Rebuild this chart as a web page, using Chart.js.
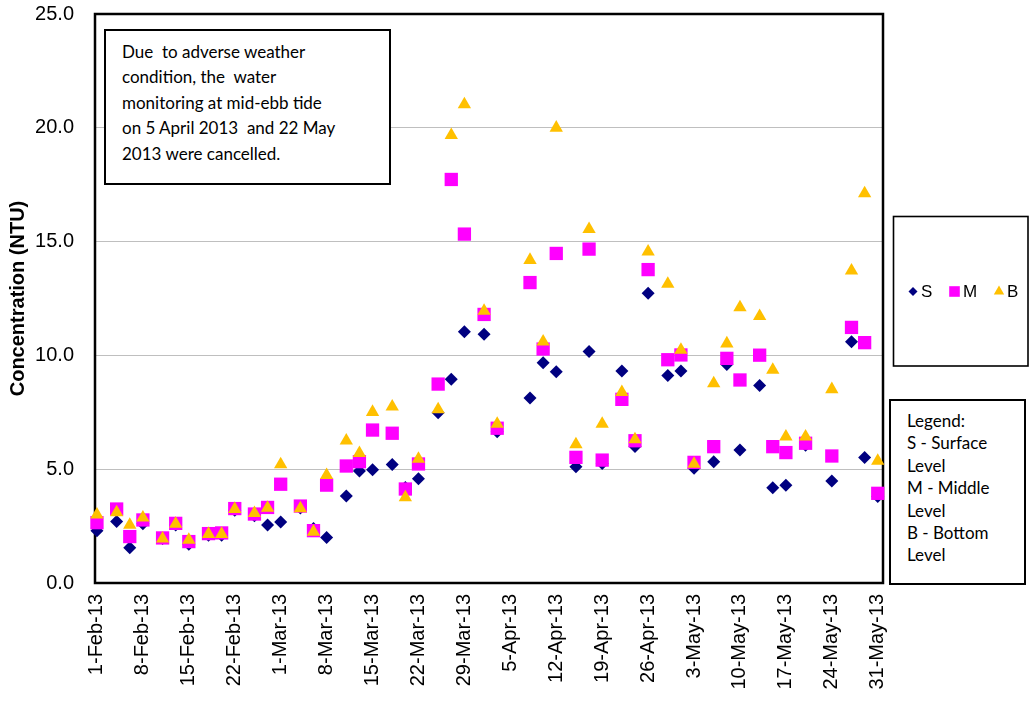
<!DOCTYPE html>
<html><head><meta charset="utf-8">
<script src="https://cdn.jsdelivr.net/npm/chart.js@4.4.1/dist/chart.umd.min.js"></script>
<style>
html,body{margin:0;padding:0;background:#fff;}
#wrap{position:relative;width:1029px;height:708px;overflow:hidden;}
#c{position:absolute;left:0;top:0;}
.box{position:absolute;box-sizing:border-box;border:2px solid #000;background:#fff;font-family:Lato,"Open Sans",sans-serif;color:#000;white-space:pre;}
</style></head><body>
<div id="wrap"><canvas id="c" width="1029" height="708"></canvas>
<div class="box" id="note" style="left:104px;top:29px;width:287px;height:156px;padding:8px 0 0 16px;font-size:17px;line-height:25.4px;">Due  to adverse weather
condition, the  water
monitoring at mid-ebb tide
on 5 April 2013  and 22 May
2013 were cancelled.</div>
<div class="box" id="key" style="left:889px;top:399px;width:137px;height:186px;padding:9px 0 0 16px;font-size:17px;line-height:22.4px;">Legend:
S - Surface
Level
M - Middle
Level
B - Bottom
Level</div>
</div>
<script>
// ---- data ----
const sampleDates = [
 '1-Feb-13','4-Feb-13','6-Feb-13','8-Feb-13','11-Feb-13','13-Feb-13','15-Feb-13','18-Feb-13','20-Feb-13','22-Feb-13','25-Feb-13','27-Feb-13',
 '1-Mar-13','4-Mar-13','6-Mar-13','8-Mar-13','11-Mar-13','13-Mar-13','15-Mar-13','18-Mar-13','20-Mar-13','22-Mar-13','25-Mar-13','27-Mar-13','29-Mar-13',
 '1-Apr-13','3-Apr-13','8-Apr-13','10-Apr-13','12-Apr-13','15-Apr-13','17-Apr-13','19-Apr-13','22-Apr-13','24-Apr-13','26-Apr-13','29-Apr-13',
 '1-May-13','3-May-13','6-May-13','8-May-13','10-May-13','13-May-13','15-May-13','17-May-13','20-May-13','24-May-13','27-May-13','29-May-13','31-May-13'
];
const surface = [
 2.30,2.70,1.55,2.60,1.95,2.55,1.70,2.10,2.10,3.20,2.95,2.55,
 2.68,3.30,2.40,2.00,3.82,4.92,4.98,5.21,4.20,4.58,7.48,8.95,11.04,
 10.93,6.65,8.13,9.68,9.28,5.11,10.17,5.25,9.31,6.00,12.73,9.12,
 9.31,5.04,5.33,9.60,5.84,8.68,4.19,4.29,6.05,4.48,10.60,5.51,3.80
];
const middle = [
 2.65,3.25,2.04,2.77,1.98,2.62,1.82,2.17,2.20,3.27,3.03,3.32,
 4.34,3.38,2.30,4.30,5.14,5.33,6.72,6.58,4.13,5.23,8.74,17.73,15.33,
 11.80,6.80,13.20,10.28,14.48,5.52,14.67,5.40,8.07,6.25,13.77,9.81,
 10.02,5.30,5.99,9.87,8.92,10.01,5.99,5.73,6.14,5.58,11.23,10.56,3.94
];
const bottom = [
 3.00,3.10,2.55,2.87,1.95,2.60,1.89,2.15,2.15,3.25,3.07,3.30,
 5.21,3.28,2.25,4.74,6.25,5.70,7.51,7.75,3.76,5.45,7.63,19.68,21.03,
 11.95,6.99,14.19,10.60,20.00,6.09,15.55,6.99,8.38,6.31,14.56,13.14,
 10.24,5.23,8.77,10.52,12.11,11.72,9.36,6.43,6.43,8.51,13.72,17.12,5.36
];
const tickLabels = ['1-Feb-13','8-Feb-13','15-Feb-13','22-Feb-13','1-Mar-13','8-Mar-13','15-Mar-13','22-Mar-13','29-Mar-13',
 '5-Apr-13','12-Apr-13','19-Apr-13','26-Apr-13','3-May-13','10-May-13','17-May-13','24-May-13','31-May-13'];
const yTicks = [0,5,10,15,20,25];

// ---- helpers ----
const MONTHS = {Jan:0,Feb:1,Mar:2,Apr:3,May:4,Jun:5,Jul:6,Aug:7,Sep:8,Oct:9,Nov:10,Dec:11};
const ORIGIN = Date.UTC(2013,1,1);
function dayOf(s){ const [d,m,y]=s.split('-'); return (Date.UTC(2000+Number(y),MONTHS[m],Number(d))-ORIGIN)/86400000; }
const tickDays = tickLabels.map(dayOf);
const labelByDay = {}; tickLabels.forEach((l,i)=>labelByDay[tickDays[i]]=l);
const pts = arr => sampleDates.map((d,i)=>({x:dayOf(d), y:arr[i]}));

const series = [
 {label:'S', data:pts(surface), pointStyle:'rectRot', radius:6.5, color:'#000080', order:3, legR:4.5},
 {label:'M', data:pts(middle), pointStyle:'rect', radius:9.4, color:'#FF00FF', order:2, legR:7.5},
 {label:'B', data:pts(bottom), pointStyle:'triangle', radius:7.7, color:'#FFC000', order:1, legR:6}
];

const framePlugin = {
  id:'frame',
  beforeDatasetsDraw(chart){
    const {ctx, chartArea:a} = chart;
    ctx.save(); ctx.strokeStyle='#000'; ctx.lineWidth=2.5;
    ctx.strokeRect(a.left, a.top, a.right-a.left, a.bottom-a.top);
    ctx.restore();
  },
  afterDraw(chart){
    const ctx = chart.ctx;
    ctx.save();
    ctx.fillStyle='#fff'; ctx.fillRect(893,216,136,150);
    ctx.strokeStyle='#000'; ctx.lineWidth=1.6; ctx.strokeRect(893.5,216.5,134.5,149.5);
    const cy = 291.5;
    const pos = [[913,921],[954.5,963],[999,1007]];
    ctx.font = '17px "Liberation Sans", Arial, sans-serif';
    ctx.textBaseline='middle'; ctx.textAlign='left';
    chart.data.datasets.forEach((ds,i)=>{
      const [mx,tx] = pos[i]; const r = series[i].legR;
      ctx.fillStyle = ds.backgroundColor;
      ctx.beginPath();
      if (ds.pointStyle==='rectRot'){ ctx.moveTo(mx-r,cy); ctx.lineTo(mx,cy-r); ctx.lineTo(mx+r,cy); ctx.lineTo(mx,cy+r); }
      else if (ds.pointStyle==='rect'){ const s=r*Math.SQRT1_2; ctx.rect(mx-s,cy-s,2*s,2*s); }
      else { ctx.moveTo(mx,cy-r); ctx.lineTo(mx+r*0.866,cy+r/2); ctx.lineTo(mx-r*0.866,cy+r/2); }
      ctx.closePath(); ctx.fill();
      ctx.fillStyle='#000'; ctx.fillText(ds.label, tx, cy+1);
    });
    ctx.restore();
  }
};

new Chart(document.getElementById('c'), {
  type:'scatter',
  data:{ datasets: series.map(s=>({
    label:s.label, data:s.data, pointStyle:s.pointStyle, pointRadius:s.radius, pointHoverRadius:s.radius,
    backgroundColor:s.color, borderColor:s.color, borderWidth:0, order:s.order, clip:false
  }))},
  options:{
    responsive:false, animation:false, devicePixelRatio:1,
    layout:{padding:{left:0,right:146,top:14,bottom:0}},
    plugins:{legend:{display:false}, tooltip:{enabled:false}},
    scales:{
      x:{ type:'linear', min:-0.3, max:119.8,
        afterBuildTicks(s){ s.ticks = tickDays.map(v=>({value:v})); },
        afterFit(s){ s.height = 125; },
        grid:{display:false, drawTicks:true, tickLength:11, tickColor:'rgba(0,0,0,0)'}, border:{display:false},
        ticks:{ autoSkip:false, minRotation:90, maxRotation:90, padding:0, color:'#000',
          font:{family:'"Liberation Sans", Arial, sans-serif', size:20},
          callback:v=>labelByDay[v] ?? '' }
      },
      y:{ min:0, max:25,
        afterBuildTicks(s){ s.ticks = yTicks.map(v=>({value:v})); },
        afterFit(s){ s.width = 95; },
        grid:{color:'#bfbfbf', lineWidth:1, drawTicks:true, tickLength:21, tickColor:'rgba(0,0,0,0)'}, border:{display:false},
        ticks:{ padding:0, color:'#000', font:{family:'"Liberation Sans", Arial, sans-serif', size:20},
          callback:v=>Number(v).toFixed(1) },
        title:{ display:true, text:'Concentration (NTU)', color:'#000', padding:{top:6,bottom:0},
          font:{family:'"Liberation Sans", Arial, sans-serif', size:20, weight:'bold'} }
      }
    }
  },
  plugins:[framePlugin]
});
</script>
</body></html>
